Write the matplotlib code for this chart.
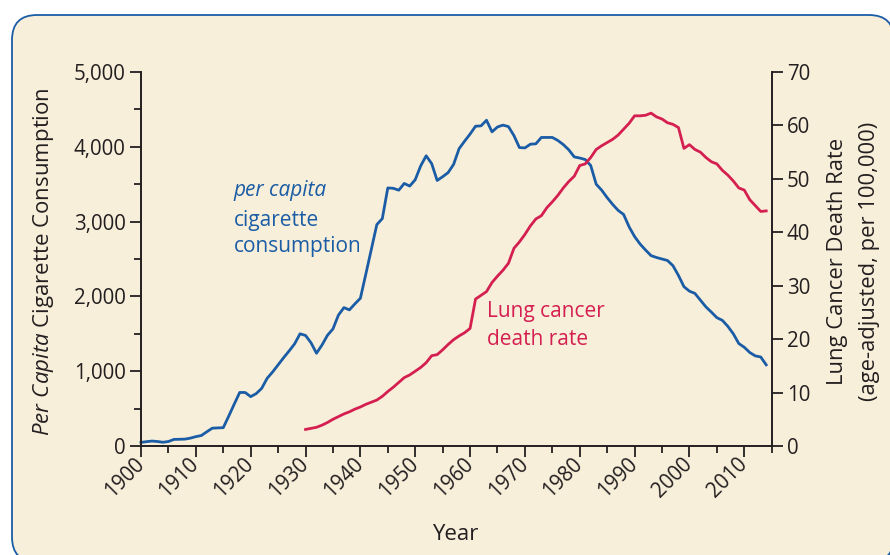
"""Per capita cigarette consumption vs lung cancer death rate, US 1900-2014."""
import matplotlib as mpl
mpl.use("Agg")
import matplotlib.pyplot as plt
from matplotlib.patches import FancyBboxPatch
from matplotlib.ticker import MultipleLocator, FuncFormatter

mpl.rcParams.update({
    "font.family": "Open Sans",
    "mathtext.fontset": "custom",
    "mathtext.rm": "Open Sans",
    "mathtext.it": "Open Sans:italic",
    "text.color": "#231f20",
    "axes.edgecolor": "#231f20",
    "xtick.color": "#231f20",
    "ytick.color": "#231f20",
})

BLUE = "#1a5ca5"
RED = "#d41f50"
CREAM = "#f8efda"

# ----------------- Data -------------------------------------------------
cig_years = list(range(1900, 2015))
cig_per_capita = [
    48, 58, 66, 60, 50, 60, 88, 90, 92, 105,              # 1900s
    125, 140, 190, 238, 242, 245, 400, 560, 716, 715,     # 1910s
    660, 700, 770, 905, 990, 1085, 1180, 1270, 1365, 1500,  # 1920s
    1478, 1380, 1240, 1350, 1480, 1565, 1750, 1850, 1820, 1900,  # 1930s
    1975, 2300, 2630, 2960, 3040, 3450, 3445, 3420, 3510, 3475,  # 1940s
    3560, 3745, 3880, 3775, 3550, 3600, 3655, 3765, 3975, 4075,  # 1950s
    4170, 4275, 4280, 4355, 4200, 4265, 4290, 4270, 4150, 3990,  # 1960s
    3985, 4035, 4040, 4125, 4125, 4125, 4085, 4030, 3960, 3865,  # 1970s
    3850, 3830, 3750, 3500, 3420, 3320, 3230, 3150, 3095, 2930,  # 1980s
    2800, 2700, 2620, 2545, 2520, 2500, 2480, 2410, 2280, 2130,  # 1990s
    2070, 2040, 1950, 1860, 1790, 1716, 1680, 1600, 1500, 1370,  # 2000s
    1320, 1250, 1205, 1190, 1085,                                # 2010s
]

lung_years = list(range(1930, 2015))
lung_death_rate = [
    3.1, 3.3, 3.5, 3.9, 4.4, 5.0, 5.5, 6.0, 6.4, 6.9,          # 1930s
    7.3, 7.8, 8.2, 8.6, 9.3, 10.2, 11.0, 11.9, 12.8, 13.3,     # 1940s
    14.0, 14.7, 15.6, 16.9, 17.1, 18.0, 19.0, 19.9, 20.6, 21.2,  # 1950s
    22.0, 27.5, 28.2, 28.9, 30.6, 31.8, 32.9, 34.2, 37.0, 38.2,  # 1960s
    39.6, 41.2, 42.5, 43.1, 44.6, 45.7, 46.9, 48.3, 49.5, 50.5,  # 1970s
    52.5, 52.8, 54.0, 55.5, 56.2, 56.8, 57.4, 58.2, 59.3, 60.4,  # 1980s
    61.8, 61.8, 61.9, 62.3, 61.6, 61.2, 60.5, 60.2, 59.6, 55.7,  # 1990s
    56.4, 55.5, 55.0, 54.0, 53.2, 52.8, 51.6, 50.7, 49.6, 48.3,  # 2000s
    47.9, 46.1, 45.0, 43.9, 44.0,                                # 2010s
]

# ----------------- Figure -----------------------------------------------
W, H = 890, 555
fig = plt.figure(figsize=(W / 100, H / 100), dpi=100)
fig.patch.set_facecolor("white")

# rounded cream panel (inches, so the corner stays round)
panel = FancyBboxPatch((0.12, -0.07), 8.82, 5.47,
                       boxstyle="round,pad=0,rounding_size=0.25",
                       transform=fig.dpi_scale_trans,
                       facecolor=CREAM, edgecolor=BLUE, linewidth=1.3,
                       zorder=0)
fig.add_artist(panel)

x0, x1, y_top, y_bot = 141, 771.7, 72, 446
ax = fig.add_axes([x0 / W, 1 - y_bot / H, (x1 - x0) / W, (y_bot - y_top) / H])
ax.set_facecolor("none")
ax2 = ax.twinx()
ax2.set_facecolor("none")

ax.plot(cig_years, cig_per_capita, color=BLUE, linewidth=2.0, clip_on=False)
ax2.plot(lung_years, lung_death_rate, color=RED, linewidth=2.0, clip_on=False)

ax.set_xlim(1900, 2015)
ax.set_ylim(0, 5000)
ax2.set_ylim(0, 70)

for sp in ("top", "right"):
    ax.spines[sp].set_visible(False)
for sp in ("top", "left", "bottom"):
    ax2.spines[sp].set_visible(False)
for a in (ax, ax2):
    for sp in a.spines.values():
        sp.set_linewidth(1.4)

ax.xaxis.set_major_locator(MultipleLocator(10))
ax.xaxis.set_minor_locator(MultipleLocator(5))
ax.yaxis.set_major_locator(MultipleLocator(1000))
ax.yaxis.set_minor_locator(MultipleLocator(500))
ax.yaxis.set_major_formatter(FuncFormatter(lambda v, _: f"{int(v):,}"))
ax2.yaxis.set_major_locator(MultipleLocator(10))

ax.tick_params(which="major", length=8, width=1.3, labelsize=14.8, pad=3)
ax.tick_params(which="minor", length=5, width=1.3)
ax2.tick_params(which="major", length=8, width=1.3, labelsize=14.8, pad=3)
plt.setp(ax.get_xticklabels(), rotation=45, ha="right", va="center",
         rotation_mode="anchor")

# axis titles
fig.text(44 / W, 1 - 262 / H, r"$\mathit{Per\ Capita}$ Cigarette Consumption",
         rotation=90, ha="center", va="center", fontsize=16)
fig.text(838 / W, 1 - 261 / H, "Lung Cancer Death Rate",
         rotation=90, ha="center", va="center", fontsize=15.8)
fig.text(870 / W, 1 - 261 / H, "(age-adjusted, per 100,000)",
         rotation=90, ha="center", va="center", fontsize=15.8)
fig.text(455 / W, 1 - 535 / H, "Year", ha="center", va="center", fontsize=16)

# in-plot labels
ax.text(1916.9, 3347, "per capita", color=BLUE, fontsize=15,
        style="italic", va="baseline")
ax.text(1916.9, 2947, "cigarette", color=BLUE, fontsize=15, va="baseline")
ax.text(1916.9, 2587, "consumption", color=BLUE, fontsize=15, va="baseline")
ax.text(1963.0, 1720, "Lung cancer", color=RED, fontsize=15, va="baseline")
ax.text(1963.0, 1347, "death rate", color=RED, fontsize=15, va="baseline")

fig.savefig("out.png", dpi=100)
